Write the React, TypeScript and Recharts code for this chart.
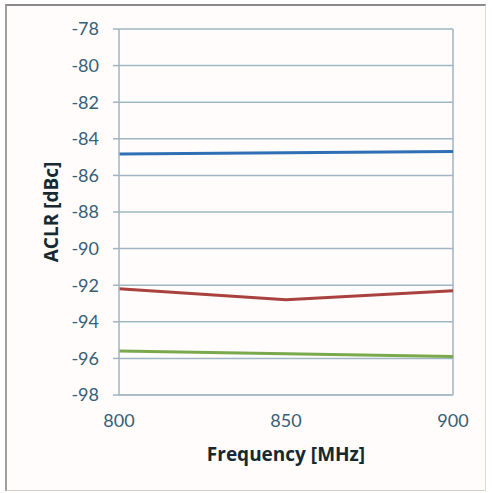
import { LineChart, Line, XAxis, YAxis, CartesianGrid, ReferenceLine } from "recharts";

const frequencies = [800, 850, 900];
const blueAclr = [-84.83, -84.76, -84.7];
const redAclr = [-92.2, -92.8, -92.3];
const greenAclr = [-95.6, -95.75, -95.9];
const yTicks = [-78, -80, -82, -84, -86, -88, -90, -92, -94, -96, -98];
const xTicks = [800, 850, 900];

const data = frequencies.map((f, i) => ({
  freq: f,
  blue: blueAclr[i],
  red: redAclr[i],
  green: greenAclr[i],
}));

const tickStyle = { fill: "#356077", fontSize: 18, fontFamily: "Lato, sans-serif" };
const titleStyle = { fill: "#162830", fontSize: 19, fontWeight: 700, fontFamily: "Open Sans, sans-serif" };

export default function App() {
  return (
    <div style={{ position: "fixed", left: 0, top: 0, width: 492, height: 493, background: "#fff" }}>
      <div
        style={{
          position: "absolute",
          left: 5,
          top: 4,
          width: 478,
          height: 484,
          borderTop: "2px solid #8a8a8a",
          borderLeft: "2px solid #a0a0a0",
          borderRight: "1px solid #e2d8d6",
          borderBottom: "1px solid #d8cccc",
          background: "#fffcfb",
        }}
      />
      <div style={{ position: "absolute", left: 0, top: 0 }}>
        <LineChart width={492} height={493} data={data} margin={{ top: 29, right: 39, bottom: 0, left: 0 }}>
          <CartesianGrid stroke="#9fb6c2" strokeWidth={1.5} vertical={false} />
          <XAxis
            dataKey="freq"
            type="number"
            domain={[800, 900]}
            ticks={xTicks}
            height={98}
            stroke="#9fb6c2"
            tickLine={false}
            tickMargin={13}
            tick={tickStyle}
            label={{ value: "Frequency [MHz]", position: "insideBottom", offset: 32, style: titleStyle }}
          />
          <YAxis
            type="number"
            domain={[-98, -78]}
            ticks={yTicks}
            interval={0}
            width={119}
            stroke="#9fb6c2"
            strokeWidth={1.5}
            tickSize={6}
            tickMargin={14}
            tick={tickStyle}
            label={{ value: "ACLR [dBc]", angle: -90, position: "insideLeft", offset: 51, style: { ...titleStyle, textAnchor: "middle" } }}
          />
          <ReferenceLine x={900} stroke="#9fb6c2" strokeWidth={1.5} />
          <Line dataKey="blue" stroke="#2f6fb5" strokeWidth={3} dot={false} isAnimationActive={false} />
          <Line dataKey="red" stroke="#a9413f" strokeWidth={3} dot={false} isAnimationActive={false} />
          <Line dataKey="green" stroke="#7aa84c" strokeWidth={3} dot={false} isAnimationActive={false} />
        </LineChart>
      </div>
    </div>
  );
}
